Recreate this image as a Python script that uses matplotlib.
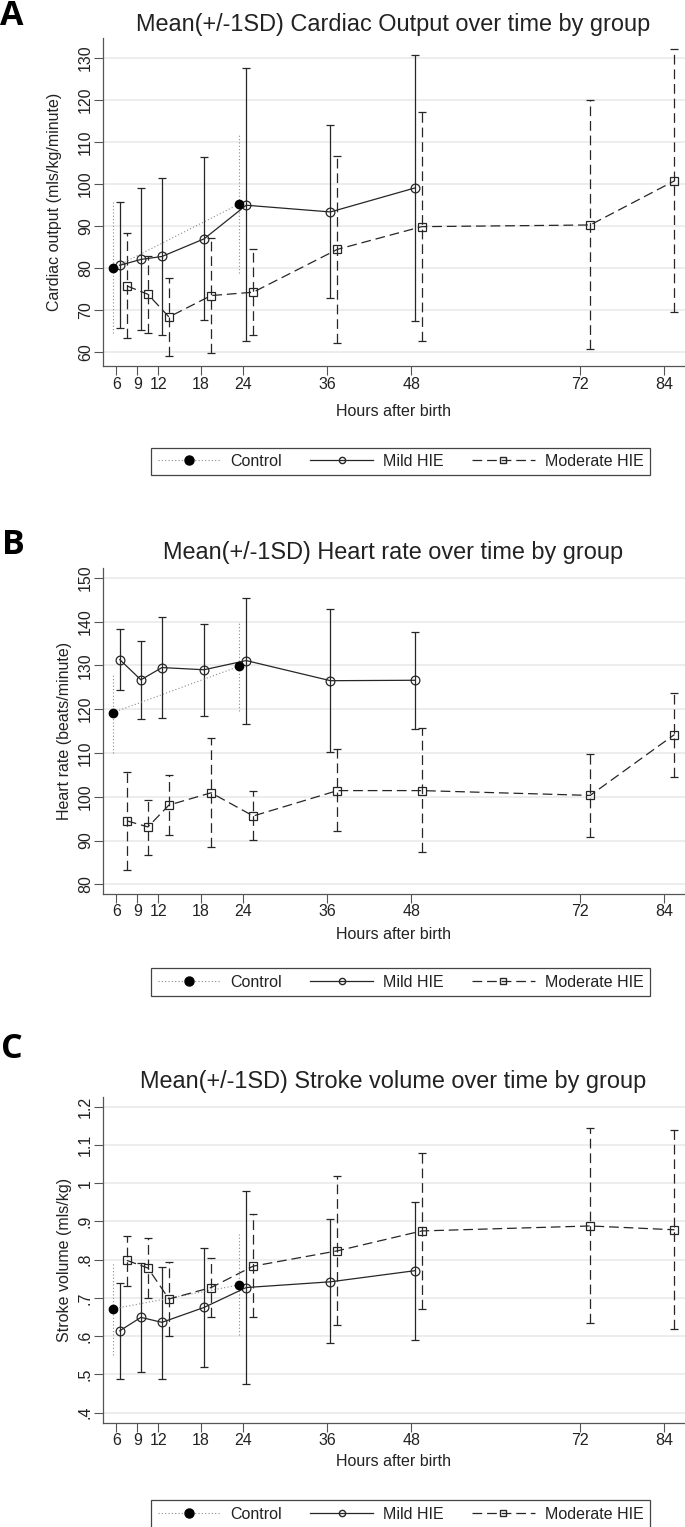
import numpy as np
import matplotlib
matplotlib.use('Agg')
import matplotlib.pyplot as plt
from matplotlib.lines import Line2D

plt.rcParams['font.family'] = ['Liberation Sans', 'DejaVu Sans']
plt.rcParams['lines.scale_dashes'] = False

# hours after birth at which each group was measured
hours_control = [6, 24]
hours_mild = [6, 9, 12, 18, 24, 36, 48]
hours_moderate = [6, 9, 12, 18, 24, 36, 48, 72, 84]
xticks = [6, 9, 12, 18, 24, 36, 48, 72, 84]

# A: cardiac output (mean, mean-1SD, mean+1SD)
co_control = [79.9, 95.2]
co_control_lo = [64.4, 78.7]
co_control_hi = [95.6, 111.6]
co_mild = [80.6, 82.0, 82.7, 86.9, 94.9, 93.3, 99.0]
co_mild_lo = [65.6, 65.2, 64.0, 67.5, 62.5, 72.7, 67.4]
co_mild_hi = [95.7, 99.0, 101.4, 106.4, 127.5, 114.0, 130.6]
co_mod = [75.7, 73.7, 68.3, 73.4, 74.2, 84.4, 89.8, 90.2, 100.7]
co_mod_lo = [63.2, 64.4, 59.1, 59.8, 64.0, 62.2, 62.6, 60.6, 69.5]
co_mod_hi = [88.3, 82.9, 77.6, 87.2, 84.6, 106.7, 117.1, 120.0, 132.0]

# B: heart rate
hr_control = [119.2, 129.8]
hr_control_lo = [110.1, 119.6]
hr_control_hi = [128.2, 140.2]
hr_mild = [131.3, 126.7, 129.5, 129.0, 131.1, 126.5, 126.6]
hr_mild_lo = [124.4, 117.7, 118.0, 118.4, 116.5, 110.2, 115.5]
hr_mild_hi = [138.3, 135.6, 141.1, 139.5, 145.5, 142.9, 137.7]
hr_mod = [94.5, 93.1, 98.1, 100.9, 95.6, 101.4, 101.4, 100.3, 114.2]
hr_mod_lo = [83.3, 86.6, 91.3, 88.5, 90.1, 92.1, 87.3, 90.9, 104.6]
hr_mod_hi = [105.7, 99.3, 105.0, 113.4, 101.2, 111.0, 115.6, 109.7, 123.8]

# C: stroke volume
sv_control = [0.671, 0.734]
sv_control_lo = [0.551, 0.603]
sv_control_hi = [0.791, 0.867]
sv_mild = [0.614, 0.649, 0.636, 0.675, 0.727, 0.742, 0.771]
sv_mild_lo = [0.488, 0.505, 0.488, 0.518, 0.474, 0.581, 0.590]
sv_mild_hi = [0.739, 0.791, 0.782, 0.831, 0.980, 0.906, 0.951]
sv_mod = [0.798, 0.778, 0.697, 0.727, 0.783, 0.823, 0.875, 0.888, 0.878]
sv_mod_lo = [0.732, 0.700, 0.600, 0.649, 0.651, 0.629, 0.671, 0.635, 0.618]
sv_mod_hi = [0.862, 0.857, 0.795, 0.805, 0.919, 1.019, 1.078, 1.144, 1.139]

dark = '#262626'
dotted = (0, (0.8, 1.6))
dashed = (0, (7, 3.5))

fig = plt.figure(figsize=(6.85, 15.27), dpi=100)


def draw_group(ax, hours, shift, mean, lo, hi, ls, color, lw, marker, mfc, ms, caps):
    x = np.array(hours) + shift
    ax.vlines(x, lo, hi, colors=color, linestyles=[ls], lw=lw, zorder=2)
    if caps:
        ax.plot(x, lo, ls='none', marker='_', ms=5.5, mew=0.9, color=color, zorder=2)
        ax.plot(x, hi, ls='none', marker='_', ms=5.5, mew=0.9, color=color, zorder=2)
    ax.plot(x, mean, ls=ls, lw=lw, color=color, marker=marker, mfc=mfc,
            mec=dark, mew=0.9, ms=ms, zorder=3)


def panel(rect, ylim, yticks, ylabels, ylab, ylab_x, xlab_y, xpad, data):
    ax = fig.add_axes(rect)
    (c, clo, chi), (m, mlo, mhi), (d, dlo, dhi) = data
    draw_group(ax, hours_control, -0.5, c, clo, chi, dotted, '#8a8a8a', 0.8, 'o', 'none', 0, False)
    ax.plot(np.array(hours_control) - 0.5, c, ls='none', marker='o', ms=6, color='black', zorder=4)
    draw_group(ax, hours_mild, 0.5, m, mlo, mhi, '-', dark, 0.9, 'o', 'none', 6.3, True)
    draw_group(ax, hours_moderate, 1.5, d, dlo, dhi, dashed, dark, 0.9, 's', 'none', 5.8, True)

    ax.set_xlim(4.06, 87.0)
    ax.set_ylim(*ylim)
    ax.set_xticks(xticks)
    ax.set_yticks(yticks, ylabels, rotation=90, va='center')
    ax.grid(axis='y', color='#ececec', lw=1.3)
    ax.set_axisbelow(True)
    for s in ['top', 'right']:
        ax.spines[s].set_visible(False)
    for s in ['left', 'bottom']:
        ax.spines[s].set_color('#555555')
        ax.spines[s].set_linewidth(0.9)
    ax.tick_params(direction='out', length=6.5, width=0.8, color='#555555',
                   labelsize=11.5, labelcolor='#222222')
    ax.tick_params(axis='y', pad=0.5)
    ax.tick_params(axis='x', pad=xpad)
    ax.set_ylabel(ylab, fontsize=11.5, color='#222222')
    ax.yaxis.set_label_coords(ylab_x, 0.5)
    ax.set_xlabel('Hours after birth', fontsize=11.5, color='#222222')
    ax.xaxis.set_label_coords(0.5, xlab_y)
    return ax


left = 102.7 / 685
width = 1 - left

panel([left, 0.7605, width, 0.2146], (56.7, 134.7), range(60, 131, 10),
      [str(v) for v in range(60, 131, 10)], 'Cardiac output (mls/kg/minute)',
      -0.070, -0.117, 1.5,
      [(co_control, co_control_lo, co_control_hi), (co_mild, co_mild_lo, co_mild_hi),
       (co_mod, co_mod_lo, co_mod_hi)])
panel([left, 0.4143, width, 0.2139], (77.7, 152.3), range(80, 151, 10),
      [str(v) for v in range(80, 151, 10)], 'Heart rate (beats/minute)',
      -0.053, -0.100, 0.5,
      [(hr_control, hr_control_lo, hr_control_hi), (hr_mild, hr_mild_lo, hr_mild_hi),
       (hr_mod, hr_mod_lo, hr_mod_hi)])
sv_ticks = [0.4, 0.5, 0.6, 0.7, 0.8, 0.9, 1.0, 1.1, 1.2]
sv_labels = ['.4', '.5', '.6', '.7', '.8', '.9', '1', '1.1', '1.2']
panel([left, 0.0679, width, 0.2139], (0.372, 1.226), sv_ticks, sv_labels,
      'Stroke volume (mls/kg)', -0.053, -0.093, 0.5,
      [(sv_control, sv_control_lo, sv_control_hi), (sv_mild, sv_mild_lo, sv_mild_hi),
       (sv_mod, sv_mod_lo, sv_mod_hi)])

titles = ['Mean(+/-1SD) Cardiac Output over time by group',
          'Mean(+/-1SD) Heart rate over time by group',
          'Mean(+/-1SD) Stroke volume over time by group']
title_y = [0.97990, 0.63392, 0.28769]
for t, y in zip(titles, title_y):
    fig.text(0.5742, y, t, ha='center', va='baseline', fontsize=16.9, color='#222222')

for lab, x, y in [('A', 0.0, 0.98363), ('B', 0.003, 0.63720), ('C', 0.0015, 0.30714)]:
    fig.text(x, y, lab, ha='left', va='baseline', fontsize=24.5, fontweight='bold',
             family=['Open Sans', 'DejaVu Sans'])

handles = [
    Line2D([], [], ls=dotted, lw=0.8, color='#8a8a8a', marker='o', ms=6.5,
           mfc='black', mec='black'),
    Line2D([], [], ls='-', lw=0.9, color=dark, marker='o', ms=4.5, mfc='none', mec=dark),
    Line2D([], [], ls=dashed, lw=0.9, color=dark, marker='s', ms=4.5, mfc='none', mec=dark),
]
names = ['Control', 'Mild HIE', 'Moderate HIE']
for cy in [0.6978, 0.3569, 0.0085]:
    leg = fig.legend(handles, names, loc='center', bbox_to_anchor=(0.5847, cy), ncol=3,
                     fontsize=11.5, handlelength=3.94, handletextpad=0.625,
                     columnspacing=1.75, borderpad=0.4, fancybox=False,
                     edgecolor='#444444', framealpha=1, borderaxespad=0)
    leg.get_frame().set_linewidth(0.9)
    for txt in leg.get_texts():
        txt.set_color('#222222')

fig.savefig('out.png', dpi=100)
